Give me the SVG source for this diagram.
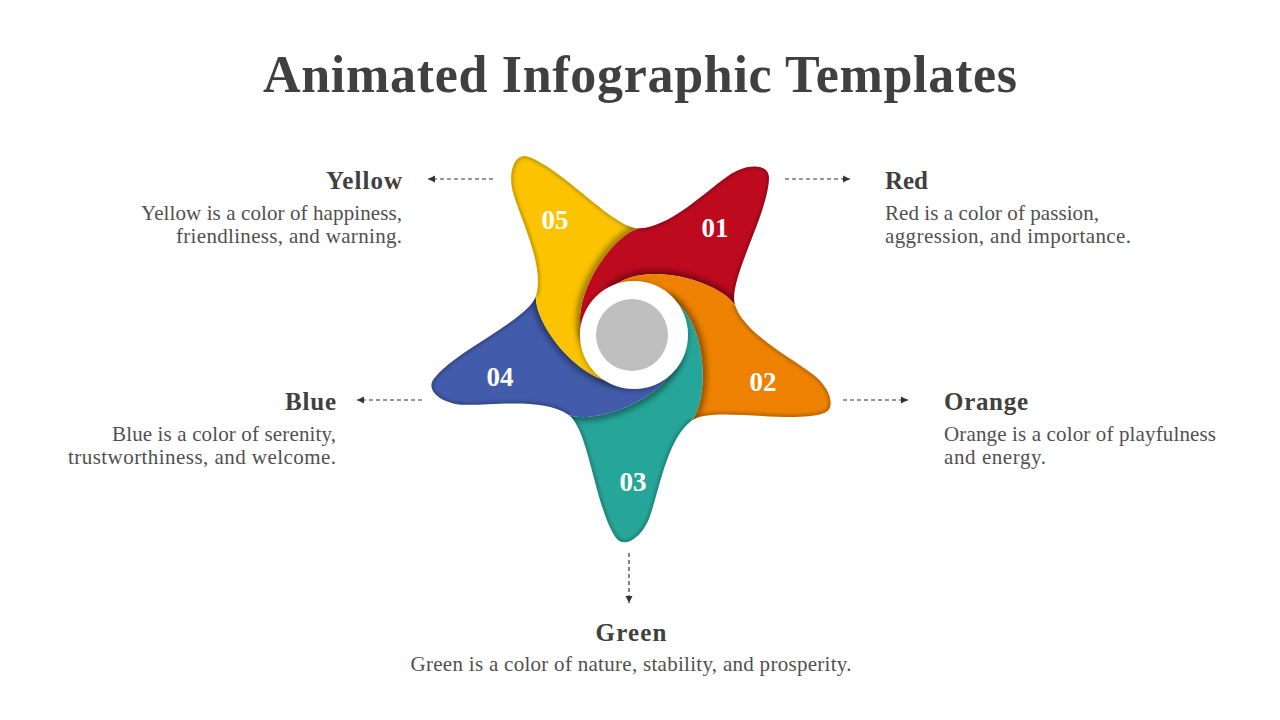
<svg xmlns="http://www.w3.org/2000/svg" xmlns:xlink="http://www.w3.org/1999/xlink" width="1280" height="720" viewBox="0 0 1280 720">
<style>
.title{font-family:"Liberation Serif","Times New Roman",serif;font-weight:700;font-size:52px;fill:#404040}
.head{font-family:"Liberation Serif","Times New Roman",serif;font-weight:700;font-size:25px;fill:#404040}
.body{font-family:"Liberation Serif","Times New Roman",serif;font-size:21px;fill:#505050}
.num{font-family:"Liberation Serif","Times New Roman",serif;font-weight:700;font-size:27px;fill:#ffffff;text-anchor:middle}
.conn{fill:none;stroke:#333;stroke-width:1.2;stroke-dasharray:4 3;marker-end:url(#ah)}
.shadow{fill:none;stroke:#000;stroke-opacity:.45;stroke-width:7;filter:url(#blur3)}
.rim{fill:none;stroke:#000;stroke-opacity:.2;stroke-width:5;filter:url(#blur1)}
</style>
<defs>
<marker id="ah" markerUnits="userSpaceOnUse" markerWidth="8" markerHeight="8" refX="7" refY="4" orient="auto">
<path d="M0,0.5 L7,4 L0,7.5 Z" fill="#333"/>
</marker>
<filter id="blur3" x="-50%" y="-50%" width="200%" height="200%"><feGaussianBlur stdDeviation="3"/></filter>
<filter id="blur1" x="-50%" y="-50%" width="200%" height="200%"><feGaussianBlur stdDeviation="1.5"/></filter>
<filter id="ds" x="-50%" y="-50%" width="200%" height="200%"><feDropShadow dx="0" dy="1" stdDeviation="3" flood-color="#000" flood-opacity=".35"/></filter>
<path id="petal" d="M4.58,-104.71 C34.58,-104.71 71,-141 94,-157 C112,-170 135,-170 135,-155 C134,-118 93.3,-51.8 101,-28 C84,-53 6,-75 -25,-43 L0,0 L-48.62,10.49 C-69.48,-28.88 -24.45,-96.27 4.58,-104.71 Z"/>
<path id="arm" d="M4.58,-104.71 C34.58,-104.71 71,-141 94,-157 C112,-170 135,-170 135,-155 C134,-118 93.3,-51.8 101,-28"/>
<path id="cut" d="M101,-28 C84,-53 6,-75 -25,-43"/>
<clipPath id="clipPetal"><use xlink:href="#petal"/></clipPath>
</defs>
<rect width="1280" height="720" fill="#ffffff"/>
<text class="title" x="640" y="92" text-anchor="middle" textLength="754">Animated Infographic Templates</text>

<g id="connectors">
<path class="conn" d="M493,179 L428,179"/>
<path class="conn" d="M785,179 L850,179"/>
<path class="conn" d="M422,400 L357,400"/>
<path class="conn" d="M843,400 L908,400"/>
<path class="conn" d="M629,553 L629,603"/>
</g>

<g id="node-01">
<g transform="translate(634,333) rotate(0)">
<use xlink:href="#petal" fill="#BE0A1E"/>
<g clip-path="url(#clipPetal)"><use xlink:href="#cut" class="shadow"/><use xlink:href="#arm" class="rim"/></g>
</g>
<text class="num" x="715" y="237">01</text>
</g>
<g id="node-02">
<g transform="translate(634,333) rotate(72)">
<use xlink:href="#petal" fill="#EE8200"/>
<g clip-path="url(#clipPetal)"><use xlink:href="#cut" class="shadow"/><use xlink:href="#arm" class="rim"/></g>
</g>
<text class="num" x="763" y="391">02</text>
</g>
<g id="node-03">
<g transform="translate(634,333) rotate(144)">
<use xlink:href="#petal" fill="#26A699"/>
<g clip-path="url(#clipPetal)"><use xlink:href="#cut" class="shadow"/><use xlink:href="#arm" class="rim"/></g>
</g>
<text class="num" x="633" y="491">03</text>
</g>
<g id="node-04">
<g transform="translate(634,333) rotate(216)">
<use xlink:href="#petal" fill="#425BAB"/>
<g clip-path="url(#clipPetal)"><use xlink:href="#cut" class="shadow"/><use xlink:href="#arm" class="rim"/></g>
</g>
<text class="num" x="500" y="386">04</text>
</g>
<g id="node-05">
<g transform="translate(634,333) rotate(288)">
<use xlink:href="#petal" fill="#FCC400"/>
<g clip-path="url(#clipPetal)"><use xlink:href="#cut" class="shadow"/><use xlink:href="#arm" class="rim"/></g>
</g>
<text class="num" x="555" y="229">05</text>
</g>

<g id="center">
<circle cx="634" cy="335" r="54" fill="#ffffff" filter="url(#ds)"/>
<circle cx="632" cy="335" r="36" fill="#BFBFBF"/>
</g>

<g id="label-yellow" text-anchor="end">
<text class="head" x="402" y="189" textLength="76">Yellow</text>
<text class="body" x="402" y="220" textLength="261">Yellow is a color of happiness,</text>
<text class="body" x="402" y="243" textLength="226">friendliness, and warning.</text>
</g>
<g id="label-red">
<text class="head" x="885" y="189" textLength="43">Red</text>
<text class="body" x="885" y="220" textLength="214">Red is a color of passion,</text>
<text class="body" x="885" y="243" textLength="246">aggression, and importance.</text>
</g>
<g id="label-blue" text-anchor="end">
<text class="head" x="336" y="410" textLength="51">Blue</text>
<text class="body" x="336" y="441" textLength="224">Blue is a color of serenity,</text>
<text class="body" x="336" y="464" textLength="268">trustworthiness, and welcome.</text>
</g>
<g id="label-orange">
<text class="head" x="944" y="410" textLength="84">Orange</text>
<text class="body" x="944" y="441" textLength="272">Orange is a color of playfulness</text>
<text class="body" x="944" y="464" textLength="102">and energy.</text>
</g>
<g id="label-green" text-anchor="middle">
<text class="head" x="631" y="641" textLength="71">Green</text>
<text class="body" x="631" y="671" textLength="441">Green is a color of nature, stability, and prosperity.</text>
</g>
</svg>
